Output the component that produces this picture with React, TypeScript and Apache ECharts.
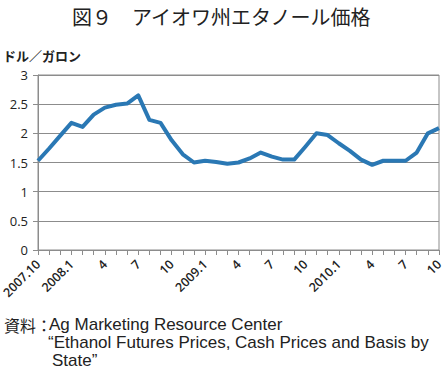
import React, { useEffect, useRef } from "react";
import * as echarts from "echarts";

const months: string[] = [
  "2007.10", "11", "12",
  "2008.1", "2", "3", "4", "5", "6", "7", "8", "9", "10", "11", "12",
  "2009.1", "2", "3", "4", "5", "6", "7", "8", "9", "10", "11", "12",
  "2010.1", "2", "3", "4", "5", "6", "7", "8", "9", "10",
];

const prices: number[] = [
  1.53, 1.74, 1.96,
  2.18, 2.11, 2.32, 2.44, 2.49, 2.51, 2.65, 2.23, 2.18, 1.88, 1.64, 1.50,
  1.53, 1.51, 1.48, 1.50, 1.57, 1.67, 1.60, 1.55, 1.55, 1.77, 2.00, 1.97,
  1.83, 1.70, 1.55, 1.46, 1.53, 1.53, 1.53, 1.67, 2.00, 2.09,
];

const titleText = "図９　アイオワ州エタノール価格";
const unitText = "ドル／ガロン";
const sourceLabel = "資料：";
const sourceLines: string[] = [
  "Ag Marketing Resource Center",
  "“Ethanol Futures Prices, Cash Prices and Basis by",
  "State”",
];

export default function App() {
  const ref = useRef<HTMLDivElement>(null);
  useEffect(() => {
    if (!ref.current) return;
    const chart = echarts.init(ref.current, null, { renderer: "svg" });
    const jp = "'Noto Sans CJK JP', sans-serif";
    const latin = "'Liberation Sans', Arial, sans-serif";
    const srcStyle = { fontSize: 17, lineHeight: 17, fill: "#222", fontFamily: latin };
    chart.setOption({
      animation: false,
      backgroundColor: "#ffffff",
      grid: {
        left: 38,
        right: 5,
        top: 75,
        bottom: 126,
        containLabel: false,
        outerBoundsMode: "none",
        show: true,
        borderColor: "#8c8c8c",
        borderWidth: 1,
      },
      xAxis: {
        type: "category",
        data: months,
        boundaryGap: false,
        axisLine: { show: true, lineStyle: { color: "#8c8c8c", width: 1 } },
        axisTick: { show: true, interval: 0, length: 5, inside: false, lineStyle: { color: "#8c8c8c" } },
        axisLabel: {
          interval: 2,
          rotate: 45,
          margin: 12,
          fontSize: 12.5,
          fontWeight: 600,
          color: "#222",
          fontFamily: "'Open Sans', sans-serif",
        },
        splitLine: { show: false },
      },
      yAxis: {
        type: "value",
        min: 0,
        max: 3,
        interval: 0.5,
        axisLine: { show: true, lineStyle: { color: "#8c8c8c", width: 1 } },
        axisTick: { show: true, length: 5, lineStyle: { color: "#8c8c8c" } },
        axisLabel: {
          margin: 10,
          fontSize: 13,
          color: "#222",
          fontFamily: "'Open Sans', sans-serif",
        },
        splitLine: { show: true, lineStyle: { color: "#8c8c8c", width: 1 } },
      },
      series: [
        {
          type: "line",
          data: prices,
          symbol: "none",
          lineStyle: { color: "#2a78b4", width: 4, join: "round" },
        },
      ],
      graphic: [
        {
          type: "text",
          left: "center",
          top: 5,
          style: { text: titleText, fontSize: 20, lineHeight: 22, fill: "#222", fontFamily: jp },
        },
        {
          type: "text",
          left: 3,
          top: 49,
          style: { text: unitText, fontSize: 13, fontWeight: "bold", fill: "#222", fontFamily: jp },
        },
        {
          type: "text",
          left: 4,
          top: 316,
          style: { text: sourceLabel, fontSize: 16, lineHeight: 17, fill: "#222", fontFamily: jp },
        },
        { type: "text", left: 49, top: 316, style: { ...srcStyle, text: sourceLines[0] } },
        { type: "text", left: 48, top: 334, style: { ...srcStyle, text: sourceLines[1] } },
        { type: "text", left: 52, top: 352, style: { ...srcStyle, text: sourceLines[2] } },
      ],
    });
    return () => chart.dispose();
  }, []);
  return (
    <div
      ref={ref}
      style={{ position: "fixed", left: 0, top: 0, width: 444, height: 376 }}
    />
  );
}
